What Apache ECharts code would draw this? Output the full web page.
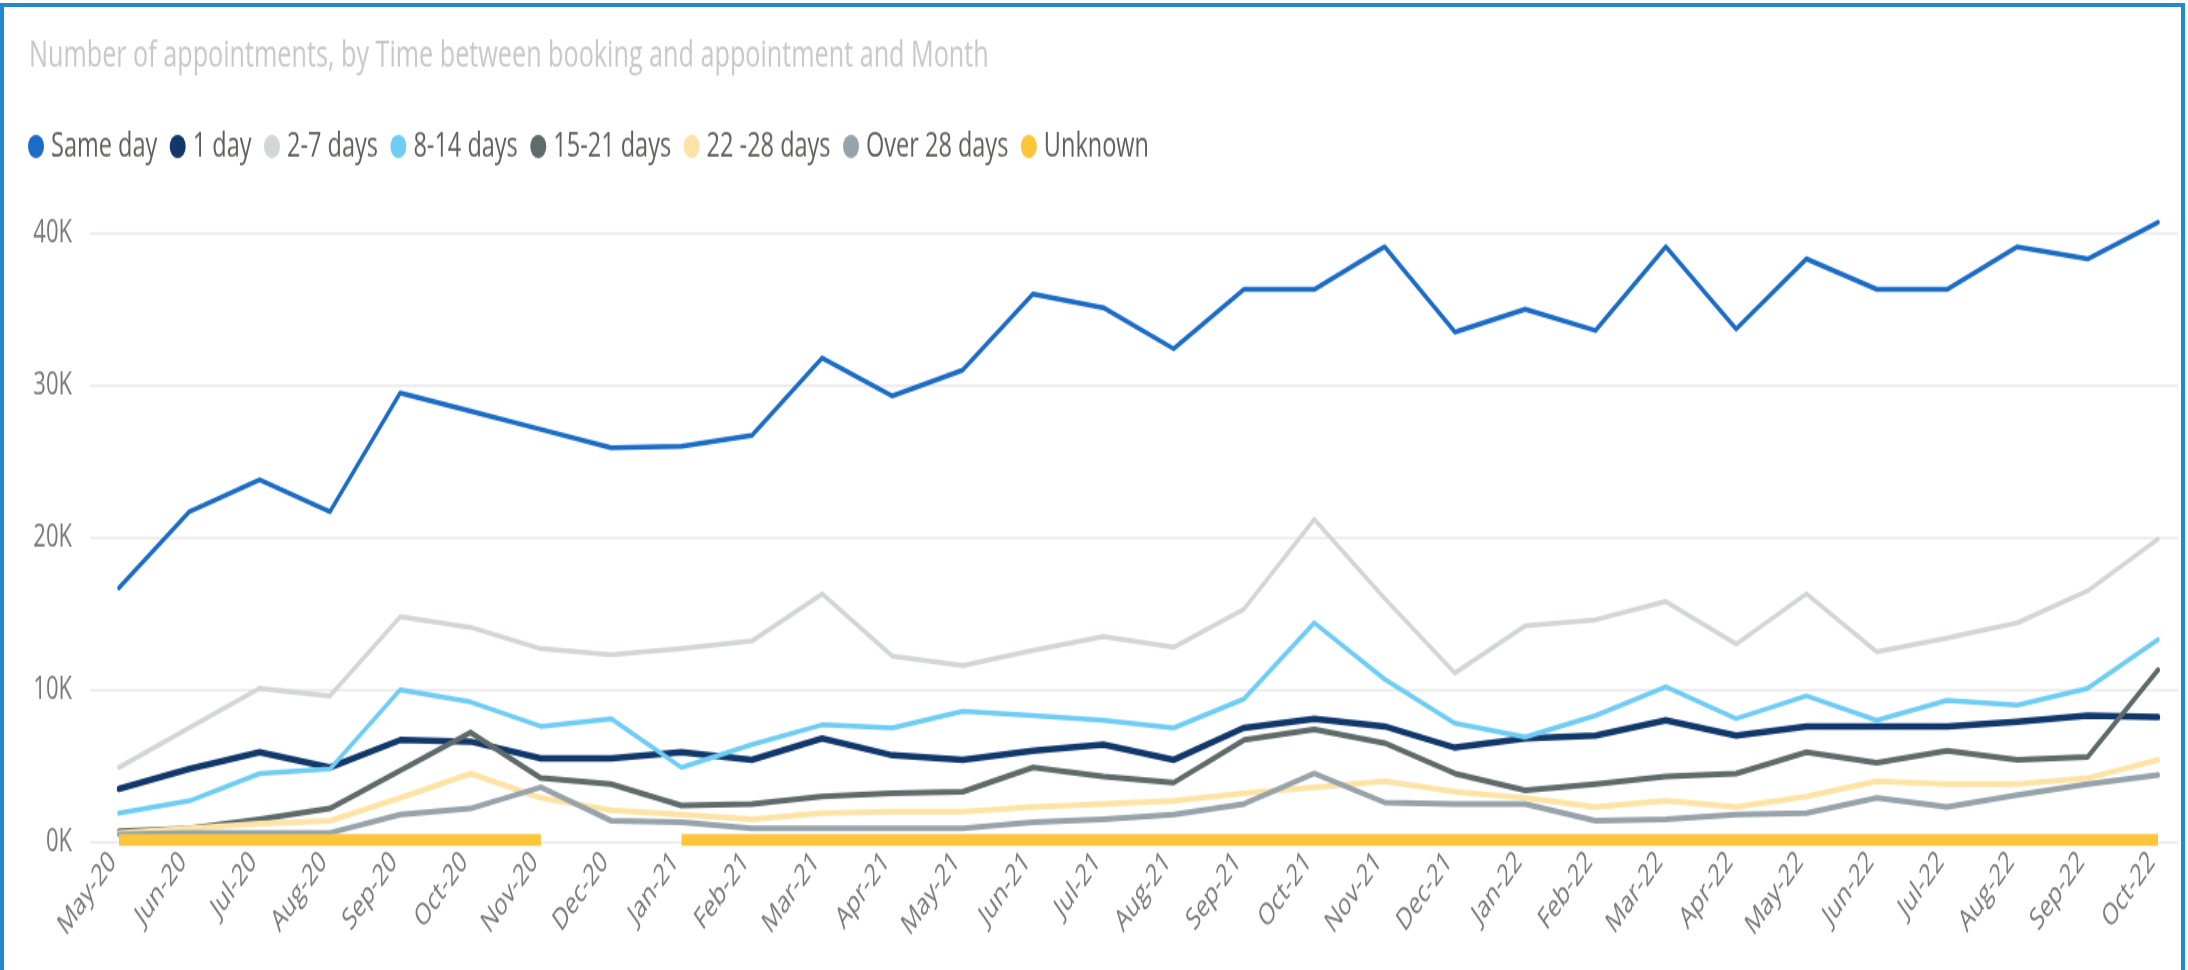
<!DOCTYPE html>
<html>
<head>
<meta charset="utf-8">
<title>Number of appointments</title>
<script src="https://cdn.jsdelivr.net/npm/echarts@6/dist/echarts.min.js"></script>
<style>
    html, body { margin: 0; padding: 0; background: #fff; overflow: hidden; }
    /* the source picture is stretched vertically, so the chart is drawn short and scaled */
    #appointments { position: absolute; left: 0; top: 0; width: 2188px; height: 669px; transform: scaleY(1.45); transform-origin: 0 0; }
    #frame { position: absolute; left: 0; top: 3px; width: 2185px; height: 1100px; box-sizing: border-box; border: 4px solid #2389cf; }
</style>
</head>
<body>
<div id="appointments"></div>
<div id="frame"></div>
<script>
//月份
var months = ['May-20', 'Jun-20', 'Jul-20', 'Aug-20', 'Sep-20', 'Oct-20', 'Nov-20', 'Dec-20',
    'Jan-21', 'Feb-21', 'Mar-21', 'Apr-21', 'May-21', 'Jun-21', 'Jul-21', 'Aug-21', 'Sep-21', 'Oct-21', 'Nov-21', 'Dec-21',
    'Jan-22', 'Feb-22', 'Mar-22', 'Apr-22', 'May-22', 'Jun-22', 'Jul-22', 'Aug-22', 'Sep-22', 'Oct-22'];

var sameDay = [16700, 21700, 23800, 21700, 29500, 28300, 27100, 25900, 26000, 26700, 31800, 29300, 31000, 36000, 35100,
    32400, 36300, 36300, 39100, 33500, 35000, 33600, 39100, 33700, 38300, 36300, 36300, 39100, 38300, 40700];
var oneDay = [3500, 4800, 5900, 4900, 6700, 6600, 5500, 5500, 5900, 5400, 6800, 5700, 5400, 6000, 6400,
    5400, 7500, 8100, 7600, 6200, 6800, 7000, 8000, 7000, 7600, 7600, 7600, 7900, 8300, 8200];
var days2to7 = [4900, 7500, 10100, 9600, 14800, 14100, 12700, 12300, 12700, 13200, 16300, 12200, 11600, 12600, 13500,
    12800, 15300, 21200, 16000, 11100, 14200, 14600, 15800, 13000, 16300, 12500, 13400, 14400, 16500, 19900];
var days8to14 = [1900, 2700, 4500, 4800, 10000, 9200, 7600, 8100, 4900, 6400, 7700, 7500, 8600, 8300, 8000,
    7500, 9400, 14400, 10700, 7800, 6900, 8300, 10200, 8100, 9600, 8000, 9300, 9000, 10100, 13300];
var days15to21 = [700, 900, 1500, 2200, 4700, 7200, 4200, 3800, 2400, 2500, 3000, 3200, 3300, 4900, 4300,
    3900, 6700, 7400, 6500, 4500, 3400, 3800, 4300, 4500, 5900, 5200, 6000, 5400, 5600, 11300];
var days22to28 = [600, 900, 1200, 1400, 2900, 4500, 2900, 2100, 1800, 1500, 1900, 2000, 2000, 2300, 2500,
    2700, 3200, 3600, 4000, 3300, 2900, 2300, 2700, 2300, 3000, 4000, 3800, 3800, 4200, 5400];
var over28 = [500, 600, 600, 600, 1800, 2200, 3600, 1400, 1300, 900, 900, 900, 900, 1300, 1500,
    1800, 2500, 4500, 2600, 2500, 2500, 1400, 1500, 1800, 1900, 2900, 2300, 3100, 3800, 4400];
//Dec-20 没有数据
var unknown = [150, 150, 150, 150, 150, 150, 150, null, 150, 150, 150, 150, 150, 150, 150,
    150, 150, 150, 150, 150, 150, 150, 150, 150, 150, 150, 150, 150, 150, 150];

var yTicks = [0, 10000, 20000, 30000, 40000];

var seriesNames = ['Same day', '1 day', '2-7 days', '8-14 days', '15-21 days', '22 -28 days', 'Over 28 days', 'Unknown'];
var seriesColors = ['#1c6cc6', '#11386a', '#d2d6d6', '#6fcdf3', '#5f6b6b', '#fee3a6', '#97a3aa', '#fcc53a'];
var seriesWidths = [3.5, 4.5, 3.5, 3.5, 4, 4, 4, 8];

var fontName = '"Segoe UI", "Open Sans", sans-serif';

/**
 * 绘制折线图
 */
function drawAppointments() {
    var dom = document.getElementById("appointments");
    var myChart = echarts.init(dom);
    var allData = [sameDay, oneDay, days2to7, days8to14, days15to21, days22to28, over28, unknown];
    var series = [];
    allData.forEach(function (v, i) {
        series.push({
            name: seriesNames[i],
            type: 'line',
            xAxisIndex: 1,
            yAxisIndex: 1,
            data: v,
            symbol: 'none',
            showSymbol: false,
            clip: false,
            connectNulls: false,
            color: seriesColors[i],
            lineStyle: {
                color: seriesColors[i],
                width: seriesWidths[i],
                join: 'round',
                cap: i == 7 ? 'butt' : 'round'
            },
            emphasis: { disabled: true }
        });
    });

    var option = {
        animation: false,
        title: {
            text: 'Number of appointments, by Time between booking and appointment and Month',
            left: 24,
            top: 21,
            textStyle: {
                color: '#c8c8c8',
                fontSize: 25.2,
                fontWeight: 'normal',
                fontFamily: fontName
            }
        },
        legend: {
            data: seriesNames,
            left: 28,
            top: 89,
            icon: 'circle',
            itemWidth: 16,
            itemHeight: 16,
            itemGap: 12.5,
            padding: 0,
            textStyle: {
                color: '#605e5c',
                fontSize: 23.5,
                fontFamily: fontName,
                padding: [0, 0, 0, 2]
            }
        },
        // 第一个 grid 只画横向网格线和 y 轴文字, 第二个放折线
        grid: [
            { left: 90, right: 10, top: 160.7, bottom: 88.3 },
            { left: 119, right: 30, top: 160.7, bottom: 88.3 }
        ],
        xAxis: [
            {
                gridIndex: 0,
                type: 'category',
                data: months,
                show: false
            },
            {
                gridIndex: 1,
                type: 'category',
                data: months,
                boundaryGap: false,
                axisLine: { show: false },
                axisTick: { show: false },
                splitLine: { show: false },
                axisLabel: {
                    interval: 0,
                    rotate: 45,
                    margin: 4,
                    padding: [0, 9, 0, 0],
                    color: '#777777',
                    fontSize: 21,
                    fontFamily: fontName
                }
            }
        ],
        yAxis: [
            {
                gridIndex: 0,
                type: 'value',
                min: yTicks[0],
                max: yTicks[yTicks.length - 1],
                interval: yTicks[1] - yTicks[0],
                axisLine: { show: false },
                axisTick: { show: false },
                splitLine: {
                    lineStyle: { color: '#eeeeee', width: 2 }
                },
                axisLabel: {
                    margin: 18,
                    color: '#777777',
                    fontSize: 22,
                    fontFamily: fontName,
                    formatter: function (value) {
                        return (value / 1000) + 'K';
                    }
                }
            },
            {
                gridIndex: 1,
                type: 'value',
                min: yTicks[0],
                max: yTicks[yTicks.length - 1],
                interval: yTicks[1] - yTicks[0],
                show: false
            }
        ],
        series: series
    };
    myChart.setOption(option, true);
}

drawAppointments();
</script>
</body>
</html>
